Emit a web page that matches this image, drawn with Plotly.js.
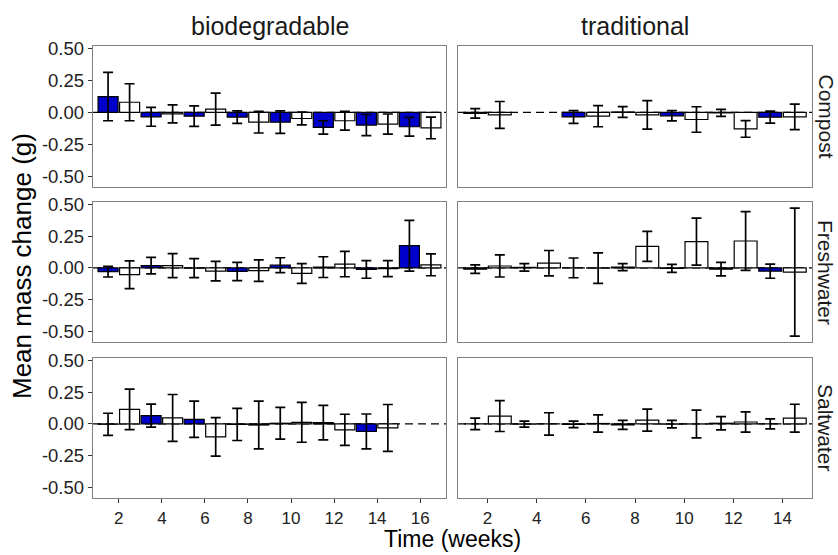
<!DOCTYPE html>
<html>
<head>
<meta charset="utf-8">
<script src="https://cdn.plot.ly/plotly-3.0.1.min.js"></script>
<style>html,body{margin:0;padding:0;background:#fff;}#chart{width:838px;height:555px;}</style>
</head>
<body>
<div id="chart"></div>
<script>
// ---- data ----
const columns = ["biodegradable", "traditional"];
const rows = ["Compost", "Freshwater", "Saltwater"];
const weeksBio = [2, 4, 6, 8, 10, 12, 14, 16];
const weeksTrad = [2, 4, 6, 8, 10, 12, 14];

const compostBioBlue     = [0.124, -0.035, -0.030, -0.037, -0.077, -0.118, -0.100, -0.113];
const compostBioBlueErr  = [0.190, 0.074, 0.080, 0.049, 0.088, 0.052, 0.083, 0.074];
const compostBioWhite    = [0.079, -0.012, 0.025, -0.077, -0.048, -0.066, -0.092, -0.122];
const compostBioWhiteErr = [0.145, 0.070, 0.125, 0.085, 0.050, 0.073, 0.079, 0.085];

const compostTradBlue     = [-0.008, null, -0.036, 0.003, -0.027, -0.004, -0.038];
const compostTradBlueErr  = [0.037, null, 0.050, 0.042, 0.040, 0.027, 0.047];
const compostTradWhite    = [-0.020, null, -0.030, -0.020, -0.056, -0.130, -0.035];
const compostTradWhiteErr = [0.105, null, 0.083, 0.112, 0.100, 0.065, 0.100];

const freshBioBlue     = [-0.030, 0.018, -0.002, -0.028, 0.021, 0.006, -0.012, 0.175];
const freshBioBlueErr  = [0.042, 0.065, 0.075, 0.072, 0.059, 0.082, 0.070, 0.200];
const freshBioWhite    = [-0.054, 0.018, -0.025, -0.022, -0.044, 0.030, -0.006, 0.024];
const freshBioWhiteErr = [0.110, 0.095, 0.077, 0.085, 0.078, 0.100, 0.063, 0.086];

const freshTradBlue     = [-0.010, 0.004, 0.000, 0.006, -0.004, -0.010, -0.026];
const freshTradBlueErr  = [0.033, 0.030, 0.078, 0.028, 0.031, 0.053, 0.056];
const freshTradWhite    = [0.015, 0.037, -0.002, 0.170, 0.207, 0.212, -0.034];
const freshTradWhiteErr = [0.087, 0.100, 0.120, 0.118, 0.186, 0.232, 0.505];

const saltBioBlue     = [-0.003, 0.065, 0.036, -0.004, 0.005, 0.010, -0.060, null];
const saltBioBlueErr  = [0.087, 0.091, 0.143, 0.127, 0.125, 0.136, 0.138, null];
const saltBioWhite    = [0.115, 0.047, -0.103, -0.009, 0.012, -0.047, -0.032, null];
const saltBioWhiteErr = [0.160, 0.185, 0.152, 0.188, 0.157, 0.123, 0.185, null];

const saltTradBlue     = [0.000, -0.002, -0.004, -0.008, -0.002, 0.005, 0.000];
const saltTradBlueErr  = [0.045, 0.023, 0.026, 0.036, 0.029, 0.052, 0.039];
const saltTradWhite    = [0.062, 0.000, 0.003, 0.030, -0.001, 0.015, 0.045];
const saltTradWhiteErr = [0.122, 0.088, 0.068, 0.087, 0.110, 0.080, 0.110];

const yTickVals = [-0.5, -0.25, 0, 0.25, 0.5];
const yTickText = ["-0.50", "-0.25", "0.00", "0.25", "0.50"];

// ---- styling ----
const BLUE = "#0000CD";
const FONT = "Liberation Sans, Arial, sans-serif";
const W = 838, H = 555;
const colPx = [[93, 446], [458, 812]];
const rowPx = [[46, 187], [202, 342], [358, 498]];
const xRanges = [[0.8, 17.2], [0.8, 15.2]];
const yRange = [-0.585, 0.52];

const panels = [
  [[weeksBio, compostBioBlue, compostBioBlueErr, compostBioWhite, compostBioWhiteErr],
   [weeksTrad, compostTradBlue, compostTradBlueErr, compostTradWhite, compostTradWhiteErr]],
  [[weeksBio, freshBioBlue, freshBioBlueErr, freshBioWhite, freshBioWhiteErr],
   [weeksTrad, freshTradBlue, freshTradBlueErr, freshTradWhite, freshTradWhiteErr]],
  [[weeksBio, saltBioBlue, saltBioBlueErr, saltBioWhite, saltBioWhiteErr],
   [weeksTrad, saltTradBlue, saltTradBlueErr, saltTradWhite, saltTradWhiteErr]]
];

const traces = [];
const layout = {
  width: W, height: H,
  margin: {l: 0, r: 0, t: 0, b: 0},
  paper_bgcolor: "white", plot_bgcolor: "white",
  barmode: "group", bargap: 0, bargroupgap: 0.07,
  showlegend: false,
  font: {family: FONT, color: "#222222"},
  shapes: [], annotations: []
};

for (let r = 0; r < 3; r++) {
  for (let c = 0; c < 2; c++) {
    const i = r * 2 + c + 1;
    const xa = i === 1 ? "x" : "x" + i;
    const ya = i === 1 ? "y" : "y" + i;
    const [wk, bv, be, wv, we] = panels[r][c];
    const errStyle = {type: "data", color: "black", thickness: 1.7, width: 5};
    traces.push({
      type: "bar", x: wk, y: bv, xaxis: xa, yaxis: ya,
      marker: {color: BLUE, line: {color: "black", width: 1.2}},
      error_y: Object.assign({array: be}, errStyle),
      hoverinfo: "x+y"
    });
    traces.push({
      type: "bar", x: wk, y: wv, xaxis: xa, yaxis: ya,
      marker: {color: "white", line: {color: "black", width: 1.2}},
      error_y: Object.assign({array: we}, errStyle),
      hoverinfo: "x+y"
    });
    const bottom = r === 2, left = c === 0;
    layout["xaxis" + (i === 1 ? "" : i)] = {
      domain: [colPx[c][0] / W, colPx[c][1] / W],
      anchor: ya, range: xRanges[c],
      showgrid: false, zeroline: false,
      showline: true, mirror: true, linecolor: "#7f7f7f", linewidth: 1.2,
      ticks: bottom ? "outside" : "", ticklen: 4, tickcolor: "#333333", tickwidth: 1,
      tickvals: c === 0 ? weeksBio : weeksTrad,
      showticklabels: bottom,
      tickfont: {family: FONT, size: 17, color: "#222222"}
    };
    layout["yaxis" + (i === 1 ? "" : i)] = {
      domain: [1 - rowPx[r][1] / H, 1 - rowPx[r][0] / H],
      anchor: xa, range: yRange,
      showgrid: false, zeroline: false,
      showline: true, mirror: true, linecolor: "#7f7f7f", linewidth: 1.2,
      ticks: left ? "outside" : "", ticklen: 4, tickcolor: "#333333", tickwidth: 1,
      tickvals: yTickVals, ticktext: yTickText,
      showticklabels: left,
      tickfont: {family: FONT, size: 18.5, color: "#222222"}
    };
    layout.shapes.push({
      type: "line", xref: xa + " domain", yref: ya,
      x0: 0, x1: 1, y0: 0, y1: 0, layer: "below",
      line: {color: "black", width: 1.3, dash: "8px,5px"}
    });
  }
}

// column strips
columns.forEach((t, c) => {
  layout.annotations.push({
    text: t, xref: "paper", yref: "paper",
    x: (colPx[c][0] + colPx[c][1]) / 2 / W, y: 1 - 26 / H,
    showarrow: false, xanchor: "center", yanchor: "middle",
    font: {family: FONT, size: 25, color: "#1a1a1a"}
  });
});
// row strips
rows.forEach((t, r) => {
  layout.annotations.push({
    text: t, xref: "paper", yref: "paper",
    x: 826 / W, y: 1 - (rowPx[r][0] + rowPx[r][1]) / 2 / H,
    showarrow: false, xanchor: "center", yanchor: "middle", textangle: 90,
    font: {family: FONT, size: 21, color: "#1a1a1a"}
  });
});
// axis titles
layout.annotations.push({
  text: "Time (weeks)", xref: "paper", yref: "paper",
  x: 452 / W, y: 1 - 539 / H, showarrow: false,
  xanchor: "center", yanchor: "middle", borderpad: 0,
  font: {family: FONT, size: 23, color: "black"}
});
layout.annotations.push({
  text: "Mean mass change (g)", xref: "paper", yref: "paper",
  x: 22 / W, y: 1 - 266 / H, showarrow: false, textangle: -90,
  xanchor: "center", yanchor: "middle",
  font: {family: FONT, size: 26, color: "black"}
});

Plotly.newPlot("chart", traces, layout, {staticPlot: true, displayModeBar: false});
</script>
</body>
</html>
